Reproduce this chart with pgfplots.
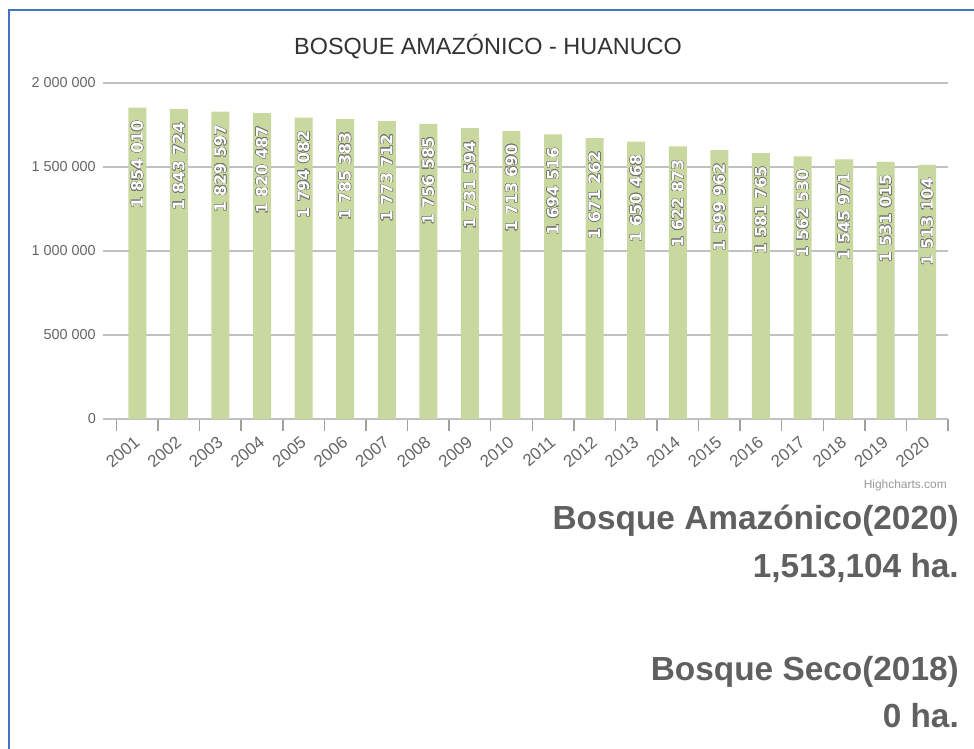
\documentclass[border=0pt]{standalone}
\usepackage{pgfplots}
\pgfplotsset{compat=1.18}
\usepackage{fontspec}
\setmainfont{Liberation Sans}
\newfontfamily\dvs{DejaVu Sans}
\usepackage{contour}
\contourlength{0.4pt}
\definecolor{bargreen}{RGB}{200,216,158}
\definecolor{gridgrey}{RGB}{192,192,192}
\definecolor{tickgrey}{RGB}{160,160,160}
\definecolor{labgrey}{RGB}{102,102,102}
\definecolor{titlegrey}{RGB}{51,51,51}
\definecolor{bigtext}{RGB}{96,96,96}
\definecolor{frameblue}{RGB}{68,114,196}
\begin{document}
\begin{tikzpicture}[x=1bp,y=1bp]
\useasboundingbox (0,0) rectangle (974,749);
\fill[white] (0,0) rectangle (974,749);
\draw[frameblue, line width=2bp] (9,0) -- (9,739) -- (974,739);
\node[anchor=base, font=\fontsize{23.5}{28}\selectfont, text=titlegrey, inner sep=0pt] at (488,694) {BOSQUE AMAZÓNICO - HUANUCO};
\begin{axis}[
  at={(103bp,330bp)}, anchor=south west, scale only axis,
  width=845bp, height=336bp,
  xmin=-0.825, xmax=19.5, ymin=0, ymax=2000000,
  scaled y ticks=false,
  ybar, bar width=18bp,
  axis x line*=bottom, axis y line*=left,
  y axis line style={draw=none},
  x axis line style={gridgrey, line width=1.5bp},
  ymajorgrids, grid style={gridgrey, line width=1.5bp},
  ytick={0,500000,1000000,1500000,2000000},
  yticklabels={0,500 000,1 000 000,1 500 000,2 000 000},
  ytick style={draw=none},
  xtick={-0.5,0.5,...,19.5},
  xticklabels={2001,2002,2003,2004,2005,2006,2007,2008,2009,2010,2011,2012,2013,2014,2015,2016,2017,2018,2019,2020},
  x tick label as interval,
  xtick style={tickgrey, line width=1.5bp},
  tick align=outside, major tick length=12bp,
  yticklabel style={anchor=east, inner sep=0pt, xshift=5bp, font=\fontsize{14.5}{16}\selectfont, text=labgrey},
  xticklabel shift=9bp,
  xticklabel style={rotate=40, anchor=east, inner sep=0pt, font=\fontsize{17}{19}\selectfont, text=labgrey},
  /pgf/number format/fixed, /pgf/number format/precision=0,
  /pgf/number format/1000 sep={\ }, /pgf/number format/assume math mode=true,
  nodes near coords={\contour{black!55}{\pgfmathprintnumber{\pgfplotspointmeta}}},
  every node near coord/.append style={rotate=90, anchor=east, inner xsep=13bp, inner ysep=0pt, text=white, font=\dvs\bfseries\fontsize{15.8}{17}\selectfont},
]
\addplot[fill=bargreen, draw=none] table[x=x, y=y] {
x y
0 1854010
1 1843724
2 1829597
3 1820487
4 1794082
5 1785383
6 1773712
7 1756585
8 1731594
9 1713690
10 1694516
11 1671262
12 1650468
13 1622873
14 1599962
15 1581765
16 1562530
17 1545971
18 1531015
19 1513104
};
\end{axis}
\node[anchor=base east, inner sep=0pt, font=\fontsize{12}{14}\selectfont, text=gray!80] at (947,260) {Highcharts.com};
\node[anchor=base east, inner sep=0pt, font=\bfseries\fontsize{33.5}{38}\selectfont, text=bigtext] at (959,219) {Bosque Amazónico(2020)};
\node[anchor=base east, inner sep=0pt, font=\bfseries\fontsize{33.5}{38}\selectfont, text=bigtext] at (959,171) {1,513,104 ha.};
\node[anchor=base east, inner sep=0pt, font=\bfseries\fontsize{33.5}{38}\selectfont, text=bigtext] at (959,68) {Bosque Seco(2018)};
\node[anchor=base east, inner sep=0pt, font=\bfseries\fontsize{33.5}{38}\selectfont, text=bigtext] at (959,21) {0 ha.};
\end{tikzpicture}
\end{document}
